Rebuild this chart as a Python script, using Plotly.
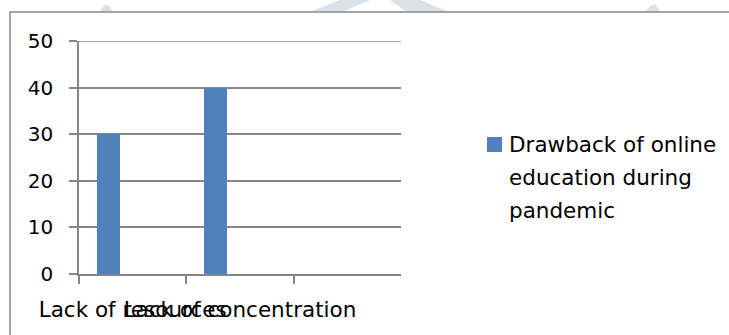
import plotly.graph_objects as go

# Survey results
categories = ["Lack of resources", "Lack of concentration", " "]
responses = [30, 40, None]
series_name = "Drawback of online education during pandemic"
legend_lines = ["Drawback of online", "education during", "pandemic"]
y_ticks = [0, 10, 20, 30, 40, 50]

W, H = 729, 335
FONT = "DejaVu Sans"
GRID = "#868686"
BAR = "#4F81BD"

# plot-area placement in pixels
px_left, px_right, px_top, px_bottom = 79, 401, 41, 274


def fx(px):
    return px / W


def fy(py):
    return 1 - py / H


fig = go.Figure()
fig.add_trace(go.Bar(
    x=categories, y=responses, name=series_name,
    marker=dict(color=BAR, line=dict(width=0)),
    width=0.217, offset=-0.335, showlegend=False,
))

shapes = [
    # outer chart frame
    dict(type="rect", xref="paper", yref="paper",
         x0=fx(10), x1=fx(740), y0=fy(345), y1=fy(12),
         line=dict(color=GRID, width=1.5), fillcolor="rgba(0,0,0,0)"),
    # legend key
    dict(type="rect", xref="paper", yref="paper",
         x0=fx(487), x1=fx(502), y0=fy(152), y1=fy(137),
         line=dict(width=0), fillcolor=BAR),
    # top gridline at 50
    dict(type="line", xref="paper", yref="y",
         x0=fx(71), x1=fx(px_right), y0=50, y1=50,
         line=dict(color=GRID, width=1.5)),
]

# faint page decoration along the top edge
deco = "rgba(214,222,228,0.9)"
for pts in [
    [(100, 11), (104, 5), (108, 5), (113, 11)],
    [(312, 11), (340, 0), (370, 0), (345, 11)],
    [(390, 0), (420, 0), (447, 11), (405, 11)],
    [(646, 11), (651, 5), (656, 5), (660, 11)],
]:
    path = " ".join(
        f"{'M' if i == 0 else 'L'} {fx(x):.5f} {fy(y):.5f}"
        for i, (x, y) in enumerate(pts)
    ) + " Z"
    shapes.append(dict(type="path", xref="paper", yref="paper", path=path,
                       line=dict(width=0), fillcolor=deco, layer="below"))

annotations = []
for k, line in enumerate(legend_lines):
    annotations.append(dict(
        xref="paper", yref="paper", x=fx(507), y=fy(153 + 33 * k),
        xanchor="left", yanchor="bottom", yshift=-6, text=line,
        showarrow=False, font=dict(family=FONT, size=21.5, color="#000000"),
    ))

fig.update_layout(
    width=W, height=H,
    margin=dict(l=0, r=0, t=0, b=0),
    paper_bgcolor="white", plot_bgcolor="white",
    font=dict(family=FONT, size=20, color="#000000"),
    bargap=0,
    shapes=shapes,
    annotations=annotations,
    xaxis=dict(
        domain=[fx(px_left), fx(px_right)],
        type="category", categoryorder="array", categoryarray=categories,
        tickson="boundaries", ticks="outside", ticklen=8, tickcolor=GRID,
        tickwidth=1.5, tickangle=0, ticklabelstandoff=15,
        showline=True, linecolor=GRID, linewidth=1.5,
        showgrid=False, automargin=False,
        tickfont=dict(family=FONT, size=21.5, color="#000000"),
    ),
    yaxis=dict(
        domain=[fy(px_bottom), fy(px_top)],
        range=[0, 50], tickvals=y_ticks,
        ticks="outside", ticklen=8, tickcolor=GRID, tickwidth=1.5,
        ticklabelstandoff=12,
        showline=True, linecolor=GRID, linewidth=1.5,
        showgrid=True, gridcolor=GRID, gridwidth=1.5,
        zeroline=False, automargin=False,
        tickfont=dict(family=FONT, size=20, color="#000000"),
    ),
)

fig.write_html("out.html")
